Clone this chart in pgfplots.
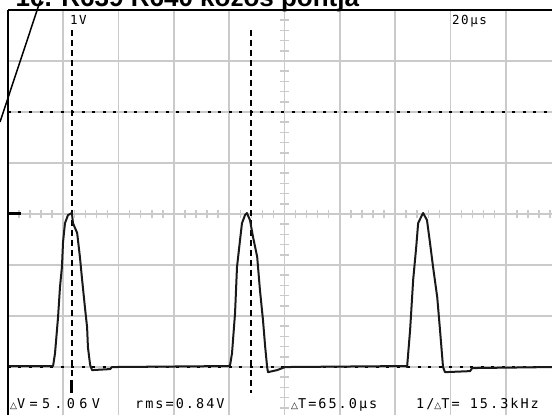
\documentclass[border=0pt]{standalone}
\usepackage{pgfplots}
\pgfplotsset{compat=1.18}
\usepackage{fontspec}
\setmainfont{Liberation Sans}
\newfontfamily\scopefont[LetterSpace=15]{DejaVu Sans Mono}
\newfontfamily\topfont[LetterSpace=12]{DejaVu Sans Mono}
\newfontfamily\widefont[LetterSpace=32]{DejaVu Sans Mono}
\newfontfamily\dvsfont{DejaVu Sans}
\definecolor{gridgray}{HTML}{CACACA}
\newcommand\tri{{\dvsfont\fontsize{9}{9}\selectfont △}}
\newcommand\lab{\scopefont\fontsize{13.5}{13.5}\selectfont}
\newcommand\wlab{\widefont\fontsize{13.5}{13.5}\selectfont}
\newcommand\tlab{\topfont\fontsize{12.5}{12.5}\selectfont}
\begin{document}
\begin{tikzpicture}
\path[use as bounding box] (0,0) rectangle (552pt,415pt);
\clip (0,0) rectangle (552pt,415pt);
% center-line ticks
\foreach \k in {1,...,49} {
  \pgfmathtruncatemacro{\r}{mod(\k,5)}
  \ifnum\r>0
    \draw[gridgray, line width=1.5pt] ({8+11.06*\k pt},197pt) -- ({8+11.06*\k pt},205pt);
  \fi
}
\foreach \k in {1,...,39} {
  \pgfmathtruncatemacro{\r}{mod(\k,5)}
  \ifnum\r>0
    \draw[gridgray, line width=1.5pt] (280pt,{405-10.2*\k pt}) -- (289pt,{405-10.2*\k pt});
  \fi
}
\begin{axis}[
  at={(8pt,0pt)}, anchor=south west, scale only axis,
  width=544pt, height=405pt,
  xmin=0, xmax=196.7, ymin=-3.94, ymax=4,
  axis line style={draw=none},
  xtick={20,40,...,180}, ytick={-3,-2,...,3},
  xticklabels={}, yticklabels={}, major tick length=0pt,
  grid=major, major grid style={draw=gridgray, line width=1.7pt},
  clip=true,
]
% cursors
\addplot[black, line width=1.6pt, dash pattern=on 3pt off 7.5pt] coordinates {(0,2) (196.7,2)};
\addplot[black, line width=1.6pt, dash pattern=on 3pt off 7.5pt] coordinates {(0,-3) (196.7,-3)};
\addplot[black, line width=1.8pt, dash pattern=on 6pt off 4pt] coordinates {(23.1,3.6) (23.1,-3.5)};
\addplot[black, line width=1.8pt, dash pattern=on 6pt off 4pt] coordinates {(88.0,3.6) (88.0,-3.5)};
\addplot[black, line width=3pt] coordinates {(23.1,-3.25) (23.1,-3.5)};
% trace
\addplot[black!90, line width=2pt, line join=round] coordinates {
(0,-2.98) (16.3,-2.98) (17.0,-2.73) (18.1,-2.02) (18.8,-1.43) (19.5,-1.04) (19.9,-0.55) (20.6,-0.18) (21.7,-0.02) (23.1,0.02)
(23.5,-0.18) (25.0,-0.37) (26.0,-0.84) (26.8,-1.29) (27.8,-1.82) (28.6,-2.22) (28.9,-2.61) (29.7,-2.96) (30.4,-3.06) (36.9,-3.04) (37.6,-3.0)
(79.9,-2.98) (80.3,-2.96) (81.0,-2.73) (82.1,-1.94) (82.8,-1.04) (83.9,-0.51) (84.6,-0.18) (85.7,-0.02) (86.4,0.02)
(87.5,-0.12) (88.6,-0.45) (90.1,-0.84) (91.1,-1.49) (92.2,-2.08) (93.0,-2.61) (93.7,-3.0) (94.0,-3.10) (97.3,-3.06) (100.2,-3.0)
(144.0,-2.98) (144.3,-3.0) (145.4,-2.27) (146.5,-1.29) (147.6,-0.65) (148.3,-0.18) (149.7,-0.02) (150.1,0.02)
(151.5,-0.12) (152.6,-0.57) (153.7,-1.04) (155.2,-1.63) (156.2,-2.27) (157.3,-3.0) (158.0,-3.10) (167.1,-3.08) (167.8,-3.02) (196.7,-3.0)
};
\end{axis}
% frame
\draw[black, line width=2pt] (8pt,405pt) -- (552pt,405pt);
\draw[black, line width=2pt] (8pt,405pt) -- (8pt,0pt);
\draw[black, line width=3pt] (8pt,201pt) -- (21pt,201pt);
% annotation line
\draw[black, line width=1.5pt] (40.5pt,415pt) -- (0pt,293pt);
% title
\node[anchor=base west, inner sep=0pt] at (15.5pt,408pt) {\fontsize{26}{26}\selectfont\bfseries 1c. R639 R640 közös pontja};
% labels
\node[anchor=base west, inner sep=0pt] at (70pt,390pt) {\tlab 1V};
\node[anchor=base west, inner sep=0pt] at (452pt,390pt) {\tlab 20µs};
\node[anchor=base west, inner sep=0pt] at (10pt,6pt) {\wlab\tri V=5.06V};
\node[anchor=base west, inner sep=0pt] at (135pt,6pt) {\lab rms=0.84V};
\node[anchor=base west, inner sep=0pt] at (291pt,6pt) {\lab\tri T=65.0µs};
\node[anchor=base west, inner sep=0pt] at (416pt,6pt) {\lab 1/\tri T= 15.3kHz};
\end{tikzpicture}
\end{document}
